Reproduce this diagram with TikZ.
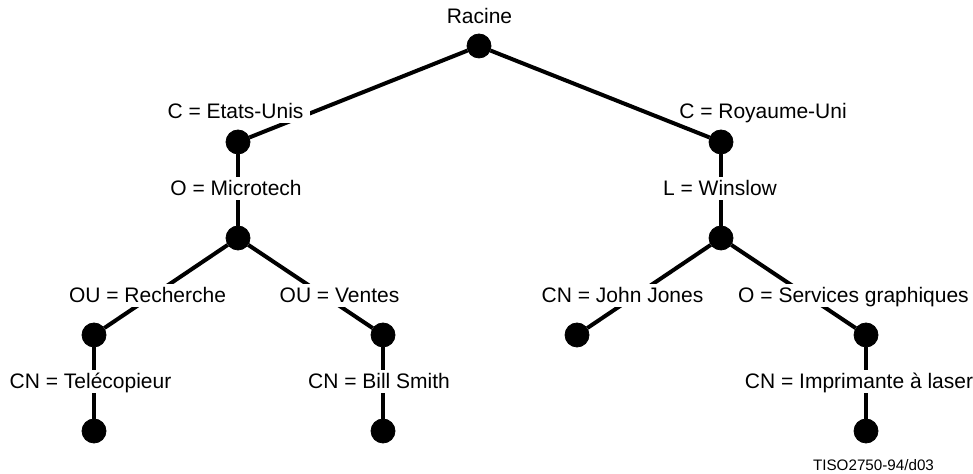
\documentclass[tikz,border=0pt]{standalone}
\usepackage{fontspec}
\setmainfont{Liberation Sans}
\usepackage{tikz}
\usetikzlibrary{positioning}

\begin{document}
\begin{tikzpicture}[
    x=0.5pt,y=-0.5pt,
    font=\fontsize{10.5}{12}\selectfont,
    dot/.style={draw,circle,fill,inner sep=0pt,minimum size=12pt},
    lbl/.style={fill=white,anchor=base,inner xsep=3.5pt,inner ysep=2pt,text height=7.6pt,text depth=0pt},
    link/.style={line width=2pt}
    ]
    \useasboundingbox (0,0) rectangle (973,474);

    \node[dot] (root) at (479,46) {};
    \node[dot] (us) at (238,142) {};
    \node[dot] (uk) at (721,142) {};
    \node[dot] (mt) at (238,238) {};
    \node[dot] (ws) at (721,238) {};

    \node[dot] (rech) at (94,335) {};
    \node[dot] (vent) at (383,335) {};
    \node[dot] (jj) at (577,335) {};
    \node[dot] (sg) at (866,335) {};

    \node[dot] (tele) at (94,431) {};
    \node[dot] (bill) at (383,431) {};
    \node[dot] (impr) at (866,431) {};

    \path (root) edge[link] (us)
    (root) edge[link] (uk)
    (us) edge[link] (mt)
    (uk) edge[link] (ws)
    (mt) edge[link] (rech)
    (mt) edge[link] (vent)
    (ws) edge[link] (jj)
    (ws) edge[link] (sg)
    (rech) edge[link] (tele)
    (vent) edge[link] (bill)
    (sg) edge[link] (impr)
    ;

    \node[lbl] (lroot) at (479.5,24) {Racine};
    \node[lbl] (lus) at (235.5,119) {C = Etats-Unis};
    \node[lbl,fill=none] (luk) at (763,119) {C = Royaume-Uni};
    \node[lbl] (lmt) at (236,196) {O = Microtech};
    \node[lbl] (lws) at (720,196) {L = Winslow};

    \node[lbl] (lrech) at (147.5,303) {OU = Recherche};
    \node[lbl] (lvent) at (339.5,303) {OU = Ventes};
    \node[lbl] (ljj) at (622.5,303) {CN = John Jones};
    \node[lbl] (lsg) at (853.5,303) {O = Services graphiques};

    \node[lbl] (ltele) at (90.5,389) {CN = Telécopieur};
    \node[lbl] (lbill) at (379,389) {CN = Bill Smith};
    \node[lbl] (limpr) at (859,389) {CN = Imprimante à laser};

    \node[anchor=base,font=\fontsize{7.6}{9}\selectfont] (ref) at (873.5,471) {TISO2750-94/d03};
  \end{tikzpicture}
\end{document}
